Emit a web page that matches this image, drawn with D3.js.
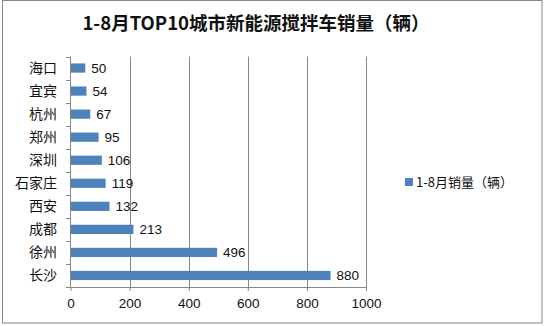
<!DOCTYPE html>
<html><head><meta charset="utf-8">
<script src="https://cdn.jsdelivr.net/npm/d3@7"></script>
<style>body{margin:0;background:#fff;}svg{display:block;}</style>
</head><body>
<script>
const categories = ["海口","宜宾","杭州","郑州","深圳","石家庄","西安","成都","徐州","长沙"];
const values = [50,54,67,95,106,119,132,213,496,880];
const xTicks = [0,200,400,600,800,1000];
const title = "1-8月TOP10城市新能源搅拌车销量（辆）";
const seriesName = "1-8月销量（辆）";

const W = 546, H = 326;
const svg = d3.select("body").append("svg").attr("width", W).attr("height", H);
const cjk = "'Noto Sans CJK SC', sans-serif";
const num = "'Liberation Sans', Arial, sans-serif";

svg.append("rect").attr("x",2.5).attr("y",0.5).attr("width",539.5).attr("height",322.5)
  .attr("fill","#fff").attr("stroke","#868686").attr("stroke-width",1);

const x = d3.scaleLinear().domain([0,1000]).range([70.5,366]);
const y = d3.scaleBand().domain(categories).range([56.5,287]).paddingInner(0.6).paddingOuter(0.3);
const band = d3.scaleBand().domain(categories).range([56.5,287]);

svg.append("text").attr("x",256).attr("y",30).attr("text-anchor","middle")
  .attr("font-family",cjk).attr("font-weight","bold").attr("font-size",18.5).attr("fill","#111").text(title);

// gridlines
svg.append("g").selectAll("line").data(xTicks.slice(1)).join("line")
  .attr("x1",d=>Math.round(x(d))+0.5).attr("x2",d=>Math.round(x(d))+0.5)
  .attr("y1",56.5).attr("y2",287).attr("stroke","#868686").attr("stroke-width",1);

// x axis
const xa = svg.append("g").attr("transform","translate(0,287)")
  .call(d3.axisBottom(x).tickValues(xTicks).tickFormat(d3.format("d")).tickSize(4).tickPadding(7).tickSizeOuter(0));
xa.select(".domain").attr("stroke","#868686");
xa.selectAll(".tick line").attr("stroke","#868686");
xa.selectAll("text").attr("font-family",num).attr("font-size",13.5).attr("fill","#111");

// y axis line and ticks at band boundaries
svg.append("line").attr("x1",70.5).attr("x2",70.5).attr("y1",56.5).attr("y2",287).attr("stroke","#868686");
const bounds = categories.map(c=>band(c)).concat([287]);
svg.append("g").selectAll("line").data(bounds).join("line")
  .attr("x1",66).attr("x2",70.5).attr("y1",d=>Math.round(d)+0.5).attr("y2",d=>Math.round(d)+0.5)
  .attr("stroke","#868686");

// category labels
svg.append("g").selectAll("text").data(categories).join("text")
  .attr("x",57).attr("y",d=>band(d)+band.bandwidth()/2+5).attr("text-anchor","end")
  .attr("font-family",cjk).attr("font-size",14).attr("fill","#111").text(d=>d);

// bars
svg.append("g").selectAll("rect").data(values).join("rect")
  .attr("x",x(0)+0.5).attr("y",(d,i)=>y(categories[i]))
  .attr("width",d=>x(d)-x(0)-0.5).attr("height",y.bandwidth()).attr("fill","#4F81BD");

// value labels
svg.append("g").selectAll("text").data(values).join("text")
  .attr("x",d=>x(d)+6).attr("y",(d,i)=>y(categories[i])+y.bandwidth()/2+4.5)
  .attr("font-family",num).attr("font-size",13.5).attr("fill","#111").text(d=>d);

// legend
svg.append("rect").attr("x",405).attr("y",178).attr("width",8).attr("height",8).attr("fill","#4F81BD");
svg.append("text").attr("x",416).attr("y",187).attr("font-family",cjk).attr("font-size",13)
  .attr("fill","#111").text(seriesName);
</script>
</body></html>
